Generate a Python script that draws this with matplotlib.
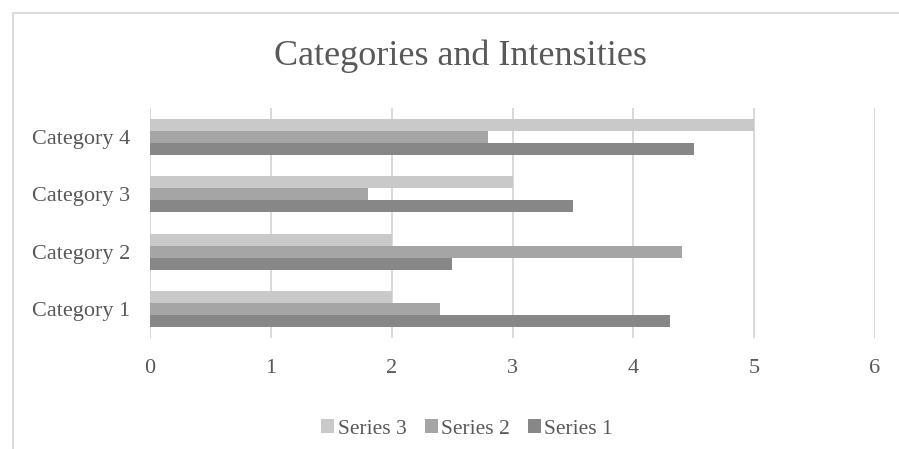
import numpy as np
import matplotlib.pyplot as plt
from matplotlib.patches import Rectangle

categories = ['Category 1', 'Category 2', 'Category 3', 'Category 4']
series_1 = [4.3, 2.5, 3.5, 4.5]
series_2 = [2.4, 4.4, 1.8, 2.8]
series_3 = [2.0, 2.0, 3.0, 5.0]
x_ticks = [0, 1, 2, 3, 4, 5, 6]

plt.rcParams['font.family'] = ['Liberation Serif', 'DejaVu Serif']
text_color = '#595959'
grid_color = '#d9d9d9'

W, H = 899, 449
fig = plt.figure(figsize=(W / 100, H / 100), dpi=100)
ax = fig.add_axes([150 / W, 1 - 338 / H, (875 - 150) / W, (338 - 108) / H])

y = np.arange(len(categories))
h = 0.209
ax.barh(y - h, series_1, height=h, color='#878787', label='Series 1', zorder=3)
ax.barh(y, series_2, height=h, color='#a5a5a5', label='Series 2', zorder=3)
ax.barh(y + h, series_3, height=h, color='#c9c9c9', label='Series 3', zorder=3)

ax.set_xlim(0, 6)
ax.set_ylim(-0.5, len(categories) - 0.5)
ax.set_xticks(x_ticks)
ax.set_yticks(y)
ax.set_yticklabels(categories)
ax.grid(axis='x', color=grid_color, linewidth=1.4, zorder=0)
for s in ax.spines.values():
    s.set_visible(False)
ax.tick_params(axis='both', length=0, colors=text_color, labelsize=16)
ax.tick_params(axis='y', pad=14)
ax.tick_params(axis='x', pad=15)

fig.text(460 / W, 1 - 56 / H, 'Categories and Intensities', ha='center', va='center',
         fontsize=26, color=text_color)

handles, labels = ax.get_legend_handles_labels()
leg = fig.legend(handles[::-1], labels[::-1], loc='center', bbox_to_anchor=(467 / W, 1 - 429 / H),
                 ncol=3, frameon=False, fontsize=15.5, handlelength=0.6, handleheight=0.6,
                 handletextpad=0.15, columnspacing=0.85)
for t in leg.get_texts():
    t.set_color(text_color)

fig.patches.append(Rectangle((12.5 / W, -0.1), 1.2, 1 - 13 / H + 0.1, transform=fig.transFigure,
                             fill=False, edgecolor=grid_color, linewidth=1.4))

fig.savefig('out.png', dpi=100)
